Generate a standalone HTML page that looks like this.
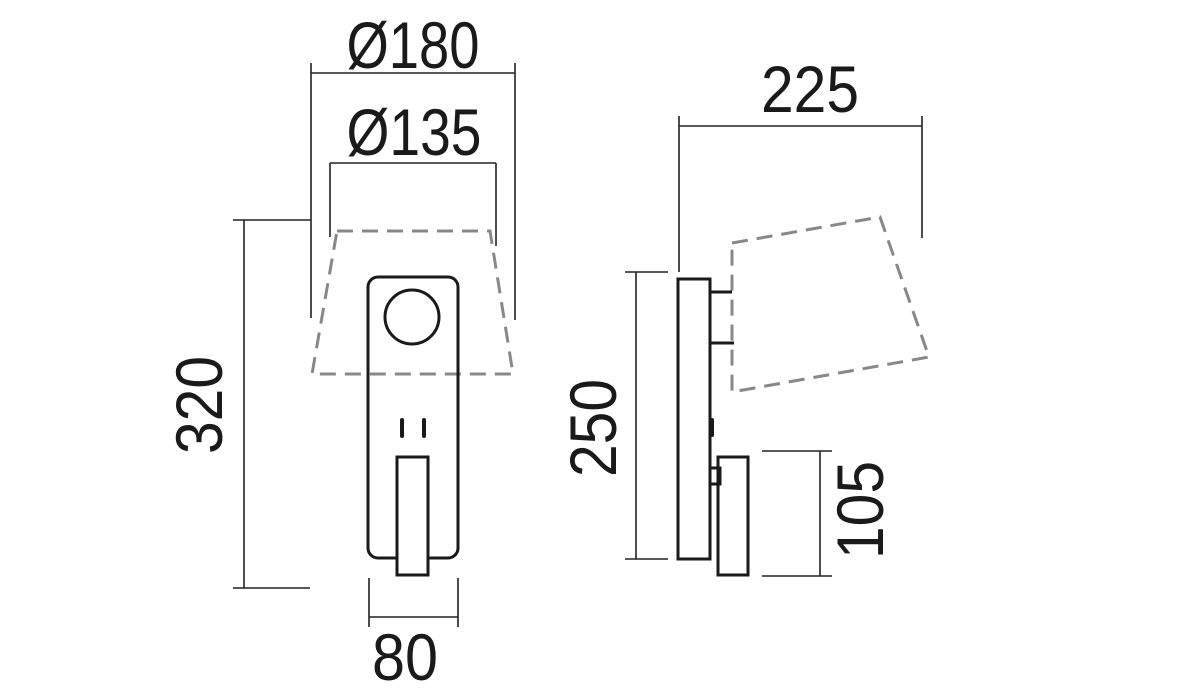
<!DOCTYPE html>
<html><head><meta charset="utf-8"><style>html,body{margin:0;padding:0;background:#fff;}svg{display:block}</style></head>
<body>
<svg width="1200" height="700" viewBox="0 0 1200 700" xmlns="http://www.w3.org/2000/svg">
<g fill="none" stroke="#222" stroke-width="1.6">
<!-- left dims -->
<line x1="311" y1="63" x2="311" y2="318"/>
<line x1="515" y1="63" x2="515" y2="320"/>
<line x1="311" y1="73" x2="515" y2="73"/>
<line x1="330" y1="163" x2="496" y2="163"/>
<line x1="330" y1="163" x2="330" y2="237"/>
<line x1="496" y1="163" x2="496" y2="246"/>
<line x1="233" y1="220" x2="311" y2="220"/>
<line x1="244" y1="220" x2="244" y2="588"/>
<line x1="233" y1="588" x2="310" y2="588"/>
<line x1="369" y1="578" x2="369" y2="627"/>
<line x1="458" y1="578" x2="458" y2="627"/>
<line x1="369" y1="617" x2="458" y2="617"/>
<!-- right dims -->
<line x1="679" y1="116" x2="679" y2="272"/>
<line x1="922" y1="116" x2="922" y2="238"/>
<line x1="679" y1="126" x2="922" y2="126"/>
<line x1="625" y1="272" x2="668" y2="272"/>
<line x1="625" y1="559" x2="668" y2="559"/>
<line x1="636" y1="272" x2="636" y2="559"/>
<line x1="762" y1="451" x2="832" y2="451"/>
<line x1="762" y1="576" x2="832" y2="576"/>
<line x1="820" y1="451" x2="820" y2="576"/>
</g>
<g fill="none" stroke="#888" stroke-width="3" stroke-dasharray="16,9">
<polygon points="337,231 490,231 513,374 312,374"/>
<polygon points="732,243 880,217 929,357 732,392"/>
</g>
<g fill="none" stroke="#1a1a1a" stroke-width="3">
<rect x="368" y="277" width="90" height="281" rx="10" fill="none"/>
<circle cx="412" cy="317" r="27"/>
<rect x="397" y="457" width="31" height="118" fill="#fff"/>
<rect x="678" y="279" width="32" height="280"/>
<line x1="710" y1="292" x2="732" y2="292"/>
<line x1="710" y1="343" x2="734" y2="343"/>
<rect x="718" y="457" width="30" height="118"/>
<rect x="710" y="468" width="10" height="16"/>
</g>
<g stroke="#1a1a1a" stroke-width="4" stroke-linecap="round">
<line x1="402" y1="420" x2="402" y2="436"/>
<line x1="424" y1="420" x2="424" y2="436"/>
<line x1="712" y1="420" x2="712" y2="435"/>
</g>
<g font-family="Liberation Sans, sans-serif" font-size="66" fill="#1a1a1a" text-anchor="middle">
<text x="413" y="68" textLength="133" lengthAdjust="spacingAndGlyphs">Ø180</text>
<text x="414" y="155" textLength="135" lengthAdjust="spacingAndGlyphs">Ø135</text>
<text x="810" y="112" textLength="98" lengthAdjust="spacingAndGlyphs">225</text>
<text x="405" y="680" textLength="66" lengthAdjust="spacingAndGlyphs">80</text>
<text transform="translate(222,405) rotate(-90)" textLength="98" lengthAdjust="spacingAndGlyphs">320</text>
<text transform="translate(616,428) rotate(-90)" textLength="98" lengthAdjust="spacingAndGlyphs">250</text>
<text transform="translate(883,510) rotate(-90)" textLength="98" lengthAdjust="spacingAndGlyphs">105</text>
</g>
</svg>
</body></html>
